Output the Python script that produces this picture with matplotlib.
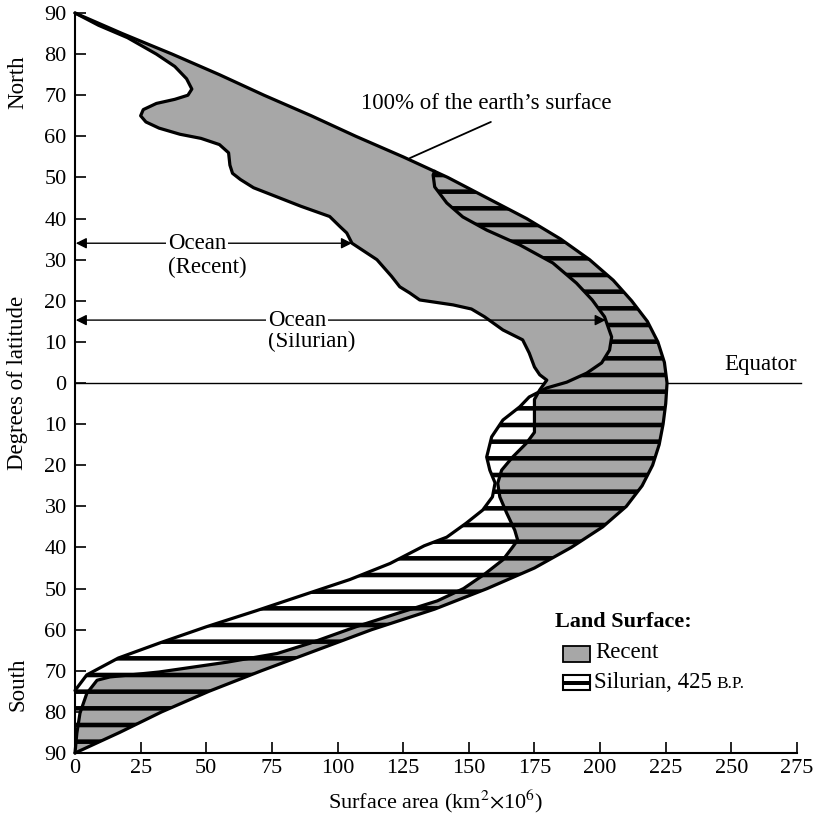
import numpy as np
import matplotlib
matplotlib.use("Agg")
import matplotlib.pyplot as plt
from matplotlib.patches import Rectangle

plt.rcParams['font.family'] = ['Liberation Serif', 'DejaVu Serif']
plt.rcParams['mathtext.fontset'] = 'stix'
plt.rcParams['hatch.linewidth'] = 3.3
plt.rcParams['hatch.color'] = 'black'

# ---- data (latitude: + north, - south; x: surface area, km^2 x 10^6) ----
outer_lat = [90, 85, 80, 75, 70, 65, 60, 55, 50, 45, 40, 35, 30, 25, 20, 15, 10, 5, 0,
             -5, -10, -15, -20, -25, -30, -35, -40, -45, -50, -55, -60, -65, -70, -75, -80, -85, -90]
outer_x = [0, 18, 37, 55, 72, 90, 107, 125, 142, 157, 172, 185, 196, 205, 212, 218, 222, 224.5, 225.5,
           225, 224, 222.5, 220, 216, 210, 201, 189, 175, 157, 137, 113, 92, 71, 51, 33, 17, 0]

recent_lat = [90, 87, 84, 80, 77, 74, 71.5, 70, 69, 68, 66.5, 65, 63.5, 62, 60.5, 59.5, 58, 56, 53,
              51, 49.5, 47.5, 45.5, 43, 40.5, 38, 36.5, 34, 30, 26, 23.4, 21.9, 20.2, 19, 18,
              16.1, 12.9, 10.5, 7.3, 3.9, 2, 0.7, -1.7, -4, -12, -14.6, -18, -21.2, -24.4,
              -27.7, -31.6, -35.8, -38.2, -39.9, -43, -46.5, -50, -53, -56, -59.3, -63.3,
              -65.8, -67.9, -70.3, -71.5, -72.3, -75.5, -80.3, -85.2, -90]
recent_x = [0, 9, 20, 31, 38, 42.5, 44.5, 43, 38, 31, 26, 25, 27, 32, 40, 48, 55, 58.5, 59,
            60, 63, 68, 76, 86, 97, 101, 103.5, 105.5, 115, 120.5, 123.7, 127.5, 131.3, 144, 151,
            156, 163, 170.5, 173, 175, 177, 179.7, 177, 175, 175, 172, 166.7, 162.5, 161,
            161.8, 164.4, 167.5, 168.6, 166.7, 163, 156, 148, 138, 123, 107, 89.5,
            77, 58, 32, 13.3, 8.4, 4.5, 1.9, 0.7, 0]

silurian_lat = [51.5, 50.6, 47.7, 43.8, 40.4, 37.2, 33.6, 29.2, 24.3, 20.2, 16.1, 11.2, 8, 4.9,
                2.4, 0.2, -1.2, -3.4, -5.8, -9, -13.1, -18, -21.2, -24.3, -27.7, -30.9,
                -34.1, -37.5, -39.6, -43.9, -47.8, -51.6, -55.4, -59.3, -63.2, -66.9, -71, -74.8, -90]
silurian_x = [137, 136.4, 137, 141.6, 147.7, 156.8, 169.4, 182, 191, 197, 201.7, 204.4, 203.6, 200.6,
              194.9, 187.3, 179.7, 173, 169.4, 163, 158.7, 156.8, 158, 160, 159, 155.3,
              149, 141.6, 133, 120, 104.7, 86.8, 69, 50, 32.4, 16.5, 4.5, 0, 0]

lat_ticks = list(range(-90, 91, 10))
x_ticks = list(range(0, 276, 25))

recent_arrow_lat = 34
silurian_arrow_lat = 15.3

W, H = 816, 814
fig = plt.figure(figsize=(W / 100, H / 100), dpi=100)
ax = fig.add_axes([75 / W, 1 - 753 / H, (797 - 75) / W, (753 - 13) / H])

def fx(px):
    return px / W

def fy(py):
    return 1 - py / H

o_lat = np.array(outer_lat, float)
o_x = np.array(outer_x, float)
r_lat = np.array(recent_lat, float)
r_x = np.array(recent_x, float)
s_lat = np.array(silurian_lat, float)
s_x = np.array(silurian_x, float)

gray = '#a7a7a7'
# recent land: between recent boundary and outer curve
ax.fill(np.concatenate([r_x, o_x[::-1]]), np.concatenate([r_lat, o_lat[::-1]]),
        facecolor=gray, edgecolor='none', zorder=2)
# silurian land: between silurian boundary and outer curve
mask = o_lat < s_lat[0]
ax.fill(np.concatenate([s_x, o_x[mask][::-1]]), np.concatenate([s_lat, o_lat[mask][::-1]]),
        facecolor='none', edgecolor='black', linewidth=0, hatch='-', zorder=3)

lw = 2.3
for xs, ys in [(o_x, o_lat), (r_x, r_lat), (s_x[:-1], s_lat[:-1])]:
    ax.plot(xs, ys, color='black', lw=lw, zorder=5, clip_on=False,
            solid_joinstyle='round', solid_capstyle='round')

# equator
ax.plot([0, 276.5], [0, 0], color='black', lw=1.0, zorder=1, clip_on=False)
ax.text(275, 4.4, 'Equator', ha='right', va='center', fontsize=16.5)

# 100% annotation
ax.text(108.9, 68.1, "100% of the earth\u2019s surface", ha='left', va='center', fontsize=16.5)
lead_lat = 54.7
lead_x = np.interp(lead_lat, o_lat[::-1], o_x[::-1])
ax.annotate('', xy=(lead_x + 1.5, lead_lat), xytext=(158.4, 63.5),
            arrowprops=dict(arrowstyle='-', lw=1.3, color='black', shrinkA=0, shrinkB=0))

# ocean arrows
ap = dict(arrowstyle='<|-|>', lw=1.0, color='black', shrinkA=0, shrinkB=0, mutation_scale=16)
r_end = np.interp(recent_arrow_lat, r_lat[::-1], r_x[::-1])
ax.annotate('', xy=(0.3, recent_arrow_lat), xytext=(r_end, recent_arrow_lat), arrowprops=ap, zorder=6)
ax.text(35.4, recent_arrow_lat, 'Ocean', ha='left', va='center', fontsize=16.5, zorder=7,
        bbox=dict(facecolor='white', edgecolor='none', pad=1.5))
ax.text(35.4, 28, '(Recent)', ha='left', va='center', fontsize=16.5)

sil_north = s_lat > 5
s_end = np.interp(silurian_arrow_lat, s_lat[sil_north][::-1], s_x[sil_north][::-1])
ax.annotate('', xy=(0.3, silurian_arrow_lat), xytext=(s_end, silurian_arrow_lat), arrowprops=ap, zorder=6)
ax.text(73.5, silurian_arrow_lat, 'Ocean', ha='left', va='center', fontsize=16.5, zorder=7,
        bbox=dict(facecolor='white', edgecolor='none', pad=1.5))
ax.text(73.5, 10, '(Silurian)', ha='left', va='center', fontsize=16.5)

# axes styling
ax.set_xlim(0, 275)
ax.set_ylim(-90, 90)
for s in ['top', 'right']:
    ax.spines[s].set_visible(False)
for s in ['left', 'bottom']:
    ax.spines[s].set_linewidth(1.5)
ax.set_xticks(x_ticks)
ax.set_xticklabels([str(v) for v in x_ticks])
ax.set_yticks(lat_ticks)
ax.set_yticklabels([str(abs(v)) for v in lat_ticks])
ax.tick_params(direction='in', length=8, width=1.2, labelsize=16)
ax.tick_params(axis='y', pad=6)
ax.tick_params(axis='x', pad=4)

# axis titles
fig.text(fx(18), fy(82), 'North', rotation=90, ha='center', va='center', fontsize=16.5)
fig.text(fx(18), fy(383), 'Degrees of latitude', rotation=90, ha='center', va='center', fontsize=16.5)
fig.text(fx(18), fy(684), 'South', rotation=90, ha='center', va='center', fontsize=16.5)
fig.text(fx(436), fy(801), 'Surface area (km$^2$$\\times$10$^6$)', ha='center', va='center', fontsize=16)

# legend (manual)
fig.text(fx(555), fy(622), 'Land Surface:', ha='left', va='center', fontsize=16, fontweight='bold')
fig.patches.append(Rectangle((fx(563), fy(662)), (590 - 563) / W, (662 - 646) / H,
                             transform=fig.transFigure, facecolor=gray, edgecolor='black', lw=1.3))
fig.patches.append(Rectangle((fx(563), fy(690)), (590 - 563) / W, (690 - 675) / H,
                             transform=fig.transFigure, facecolor='white', edgecolor='black', lw=1.5))
fig.patches.append(Rectangle((fx(563), fy(684.5)), (590 - 563) / W, 4 / H,
                             transform=fig.transFigure, facecolor='black', edgecolor='none'))
fig.text(fx(595), fy(653), 'Recent', ha='left', va='center', fontsize=16.5)
t1 = fig.text(fx(594), fy(682), 'Silurian, 425', ha='left', va='center', fontsize=16.5)
fig.canvas.draw()
bb = t1.get_window_extent()
fig.text((bb.x1 + 5) / W, fy(684), 'B.P.', ha='left', va='center', fontsize=12.5)

fig.savefig('out.png', dpi=100)
